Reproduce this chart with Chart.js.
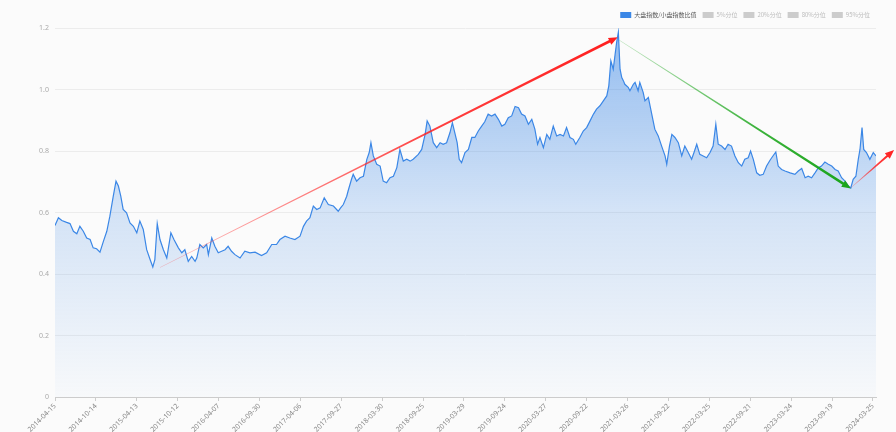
<!DOCTYPE html>
<html lang="zh">
<head>
<meta charset="UTF-8" />
<title>大盘指数/小盘指数比值</title>
<script src="https://cdn.jsdelivr.net/npm/chart.js"></script>
<style>
  html, body { margin: 0; padding: 0; background: #fbfbfb; }
  #wrap { width: 896px; height: 432px; position: relative; }
</style>
</head>
<body>
<div id="wrap"><canvas id="ratio-chart"></canvas></div>
<script>
  // x轴刻度标签（每120个交易日一个）
  const tickLabels = [
    "2014-04-15", "2014-10-14", "2015-04-13", "2015-10-12", "2016-04-07",
    "2016-09-30", "2017-04-06", "2017-09-27", "2018-03-30", "2018-09-25",
    "2019-03-29", "2019-09-24", "2020-03-27", "2020-09-22", "2021-03-26",
    "2021-09-22", "2022-03-25", "2022-09-21", "2023-03-24", "2023-09-19",
    "2024-03-25"
  ];
  const tickStep = 120;
  const lastDay = 2409;

  // 交易日序号
  const days = [
    0, 10, 20, 34, 44, 54, 64, 73, 83, 93, 103, 112, 122, 132, 142, 152, 161, 171, 179, 186,
    193, 200, 210, 220, 230, 240, 249, 259, 269, 279, 287, 293, 300, 308, 318, 328, 340, 349, 362, 372,
    381, 391, 401, 411, 416, 425, 435, 445, 450, 460, 469, 479, 489, 499, 508, 518, 528, 543, 557, 572,
    587, 606, 621, 636, 650, 660, 675, 689, 704, 719, 729, 738, 748, 758, 768, 778, 790, 802, 817, 831,
    838, 846, 856, 860, 870, 875, 885, 895, 905, 915, 922, 927, 934, 944, 954, 963, 973, 983, 993, 1003,
    1012, 1022, 1032, 1042, 1051, 1066, 1076, 1086, 1092, 1100, 1110, 1120, 1130, 1139, 1149, 1159, 1166, 1173, 1180, 1186,
    1193, 1203, 1213, 1223, 1232, 1242, 1252, 1261, 1271, 1281, 1291, 1301, 1311, 1320, 1330, 1340, 1350, 1360, 1369, 1379,
    1389, 1399, 1408, 1416, 1423, 1433, 1443, 1452, 1462, 1472, 1482, 1492, 1501, 1511, 1521, 1528, 1540, 1550, 1560, 1570,
    1580, 1589, 1599, 1609, 1619, 1625, 1631, 1638, 1643, 1648, 1653, 1658, 1663, 1668, 1672, 1682, 1687, 1697, 1702, 1711,
    1716, 1726, 1731, 1741, 1751, 1760, 1770, 1780, 1790, 1795, 1803, 1810, 1819, 1829, 1839, 1848, 1858, 1868, 1875, 1883,
    1892, 1902, 1912, 1922, 1931, 1939, 1946, 1956, 1966, 1975, 1985, 1995, 2005, 2015, 2024, 2034, 2041, 2049, 2059, 2068,
    2078, 2088, 2098, 2103, 2115, 2122, 2132, 2142, 2157, 2171, 2181, 2191, 2201, 2210, 2220, 2230, 2240, 2249, 2259, 2269,
    2279, 2289, 2298, 2308, 2318, 2328, 2335, 2342, 2350, 2357, 2362, 2368, 2373, 2381, 2391, 2401, 2409
  ];

  // 大盘指数/小盘指数比值
  const ratios = [
    0.558, 0.583, 0.574, 0.568, 0.564, 0.539, 0.531, 0.555, 0.539, 0.517, 0.512, 0.485, 0.482, 0.471, 0.506, 0.539, 0.588, 0.653, 0.702, 0.686,
    0.653, 0.610, 0.599, 0.566, 0.555, 0.534, 0.572, 0.545, 0.479, 0.447, 0.423, 0.447, 0.564, 0.512, 0.479, 0.452, 0.534, 0.512, 0.485, 0.469,
    0.479, 0.441, 0.457, 0.441, 0.452, 0.496, 0.485, 0.496, 0.463, 0.517, 0.490, 0.469, 0.474, 0.479, 0.490, 0.474, 0.463, 0.452, 0.474, 0.469,
    0.471, 0.460, 0.469, 0.496, 0.496, 0.512, 0.523, 0.517, 0.512, 0.523, 0.555, 0.572, 0.583, 0.621, 0.610, 0.615, 0.648, 0.626, 0.621, 0.604,
    0.615, 0.626, 0.653, 0.670, 0.708, 0.724, 0.702, 0.713, 0.718, 0.773, 0.795, 0.827, 0.784, 0.757, 0.751, 0.702, 0.697, 0.713, 0.718, 0.746,
    0.805, 0.767, 0.773, 0.767, 0.773, 0.789, 0.805, 0.854, 0.898, 0.881, 0.827, 0.811, 0.827, 0.822, 0.827, 0.860, 0.892, 0.860, 0.827, 0.773,
    0.762, 0.795, 0.805, 0.844, 0.844, 0.865, 0.881, 0.895, 0.920, 0.914, 0.920, 0.903, 0.881, 0.887, 0.908, 0.914, 0.945, 0.941, 0.920, 0.914,
    0.887, 0.903, 0.871, 0.822, 0.844, 0.811, 0.854, 0.838, 0.881, 0.849, 0.854, 0.849, 0.876, 0.844, 0.838, 0.822, 0.844, 0.865, 0.876, 0.898,
    0.920, 0.936, 0.947, 0.963, 0.979, 1.012, 1.093, 1.066, 1.110, 1.153, 1.186, 1.066, 1.039, 1.028, 1.017, 1.007, 0.996, 1.017, 1.023, 0.996,
    1.023, 0.990, 0.963, 0.974, 0.920, 0.871, 0.849, 0.816, 0.784, 0.757, 0.816, 0.854, 0.844, 0.827, 0.784, 0.816, 0.795, 0.773, 0.795, 0.822,
    0.789, 0.784, 0.778, 0.795, 0.816, 0.887, 0.822, 0.816, 0.805, 0.822, 0.816, 0.784, 0.762, 0.751, 0.773, 0.778, 0.800, 0.773, 0.729, 0.721,
    0.724, 0.751, 0.770, 0.778, 0.797, 0.751, 0.740, 0.735, 0.729, 0.724, 0.735, 0.743, 0.713, 0.718, 0.713, 0.729, 0.746, 0.751, 0.764, 0.757,
    0.751, 0.740, 0.735, 0.713, 0.702, 0.686, 0.680, 0.708, 0.718, 0.773, 0.805, 0.876, 0.805, 0.795, 0.773, 0.795, 0.784
  ];

  const seriesNames = ["大盘指数/小盘指数比值", "5%分位", "20%分位", "80%分位", "95%分位"];

  // 趋势箭头（起点、终点，单位：交易日序号 / 比值）
  const arrowFrom = [[308, 0.421], [1656, 1.160], [2335, 0.680]];
  const arrowTo = [[1651, 1.170], [2335, 0.678], [2462, 0.803]];
  const arrowColors = ["255,30,30", "25,165,25", "255,30,30"];

  function drawArrow(ctx, x0, y0, x1, y1, rgb, w0, w1, head) {
    const dx = x1 - x0, dy = y1 - y0;
    const len = Math.hypot(dx, dy);
    const ux = dx / len, uy = dy / len, nx = -uy, ny = ux;
    const bx = x1 - ux * head, by = y1 - uy * head;
    const hw = head * 0.42;
    const grad = ctx.createLinearGradient(x0, y0, x1, y1);
    grad.addColorStop(0, "rgba(" + rgb + ",0.25)");
    grad.addColorStop(0.6, "rgba(" + rgb + ",0.85)");
    grad.addColorStop(1, "rgba(" + rgb + ",1)");
    ctx.fillStyle = grad;
    ctx.beginPath();
    ctx.moveTo(x0 + nx * w0 / 2, y0 + ny * w0 / 2);
    ctx.lineTo(bx + nx * w1 / 2, by + ny * w1 / 2);
    ctx.lineTo(bx + nx * hw, by + ny * hw);
    ctx.lineTo(x1, y1);
    ctx.lineTo(bx - nx * hw, by - ny * hw);
    ctx.lineTo(bx - nx * w1 / 2, by - ny * w1 / 2);
    ctx.lineTo(x0 - nx * w0 / 2, y0 - ny * w0 / 2);
    ctx.closePath();
    ctx.fill();
  }

  const arrowPlugin = {
    id: "trendArrows",
    afterDatasetsDraw(chart) {
      const { ctx, scales } = chart;
      ctx.save();
      arrowFrom.forEach((p, i) => {
        const q = arrowTo[i];
        drawArrow(
          ctx,
          scales.x.getPixelForValue(p[0]), scales.y.getPixelForValue(p[1]),
          scales.x.getPixelForValue(q[0]), scales.y.getPixelForValue(q[1]),
          arrowColors[i], 0.5, i === 2 ? 2.2 : 2.6, 9
        );
      });
      ctx.restore();
    },
  };

  const datasets = [
    {
      label: seriesNames[0],
      data: days.map((d, i) => ({ x: d, y: ratios[i] })),
      borderColor: "#3b87e6",
      borderWidth: 1.2,
      pointRadius: 0,
      tension: 0,
      fill: "origin",
      backgroundColor: (context) => {
        const { ctx, chartArea } = context.chart;
        if (!chartArea) return "rgba(59,135,230,0.2)";
        const g = ctx.createLinearGradient(0, chartArea.top, 0, chartArea.bottom);
        g.addColorStop(0, "rgba(59,135,230,0.55)");
        g.addColorStop(0.5, "rgba(59,135,230,0.2)");
        g.addColorStop(1, "rgba(59,135,230,0.02)");
        return g;
      },
    },
  ];
  for (let i = 1; i < seriesNames.length; i++) {
    datasets.push({ label: seriesNames[i], data: [], borderColor: "#ccc", backgroundColor: "#ccc" });
  }

  const ctx = document.getElementById("ratio-chart").getContext("2d");
  new Chart(ctx, {
    type: "line",
    data: { datasets: datasets },
    plugins: [arrowPlugin],
    options: {
      responsive: true,
      maintainAspectRatio: false,
      animation: false,
      layout: { padding: { top: 6, right: 20, left: 0, bottom: 0 } },
      scales: {
        x: {
          type: "linear",
          min: 0,
          max: lastDay,
          afterBuildTicks: (axis) => {
            axis.ticks = tickLabels.map((_, i) => ({ value: i * tickStep }));
          },
          afterFit: (scale) => { scale.height = 35; },
          ticks: {
            autoSkip: false,
            minRotation: 45,
            maxRotation: 45,
            padding: 1,
            color: "#888",
            font: { size: 7, family: "Noto Sans" },
            callback: (v) => tickLabels[Math.round(v / tickStep)],
          },
          grid: { drawOnChartArea: false, tickLength: 4, color: "#ccc" },
          border: { color: "#ccc" },
        },
        y: {
          min: 0,
          max: 1.2,
          afterFit: (scale) => { scale.width = 55; },
          ticks: {
            stepSize: 0.2,
            padding: 6,
            color: "#aaa",
            font: { size: 7, family: "Noto Sans" },
          },
          grid: { color: "#ececec", drawTicks: false },
          border: { display: false },
        },
      },
      plugins: {
        tooltip: { enabled: false },
        legend: {
          position: "top",
          align: "end",
          labels: {
            boxWidth: 11,
            boxHeight: 6,
            padding: 6,
            font: { size: 6, family: "Noto Sans CJK SC" },
            generateLabels: (chart) =>
              chart.data.datasets.map((ds, i) => ({
                text: ds.label,
                fillStyle: i === 0 ? "#3b87e6" : "#ccc",
                strokeStyle: i === 0 ? "#3b87e6" : "#ccc",
                lineWidth: 0,
                hidden: false,
                datasetIndex: i,
                fontColor: i === 0 ? "#555" : "#bbb",
              })),
          },
        },
      },
    },
  });
</script>
</body>
</html>
